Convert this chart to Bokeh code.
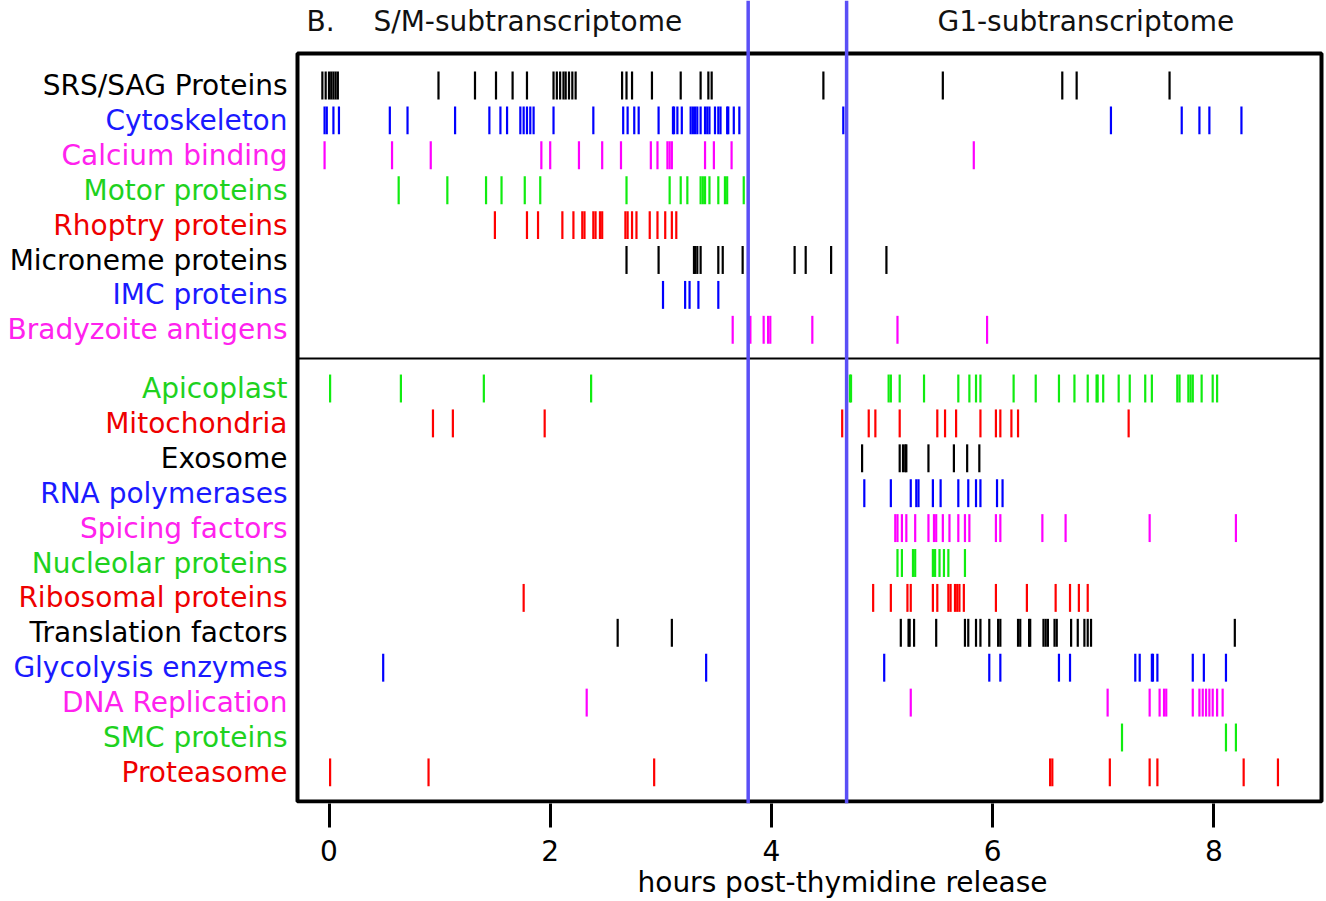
from bokeh.plotting import figure
from bokeh.models import Range1d, FixedTicker, Span, ColumnDataSource, Title
from bokeh.core.properties import value
from bokeh.embed import file_html
from bokeh.resources import INLINE

# ---------------- data ----------------
categories_top = ["SRS/SAG Proteins", "Cytoskeleton", "Calcium binding", "Motor proteins",
                  "Rhoptry proteins", "Microneme proteins", "IMC proteins", "Bradyzoite antigens"]
categories_bottom = ["Apicoplast", "Mitochondria", "Exosome", "RNA polymerases", "Spicing factors",
                     "Nucleolar proteins", "Ribosomal proteins", "Translation factors",
                     "Glycolysis enzymes", "DNA Replication", "SMC proteins", "Proteasome"]

srs_sag = [-0.06, -0.03, 0.0, 0.02, 0.04, 0.06, 0.08, 0.99, 1.32, 1.51, 1.66, 1.79, 2.03, 2.06, 2.09,
           2.12, 2.14, 2.17, 2.20, 2.23, 2.65, 2.69, 2.74, 2.92, 3.18, 3.36, 3.43, 3.46, 4.47, 5.55,
           6.63, 6.76, 7.60]
cytoskeleton = [-0.04, -0.02, 0.04, 0.09, 0.55, 0.71, 1.14, 1.45, 1.55, 1.61, 1.73, 1.76, 1.79, 1.82,
                1.85, 2.03, 2.39, 2.66, 2.70, 2.76, 2.80, 2.98, 3.11, 3.12, 3.15, 3.19, 3.27, 3.29,
                3.31, 3.33, 3.36, 3.40, 3.42, 3.44, 3.49, 3.52, 3.54, 3.60, 3.61, 3.66, 3.71, 4.65,
                7.07, 7.71, 7.87, 7.96, 8.25]
calcium = [-0.04, 0.57, 0.92, 1.92, 2.00, 2.26, 2.47, 2.64, 2.91, 2.97, 3.06, 3.08, 3.10, 3.40, 3.48,
           3.64, 5.83]
motor = [0.63, 1.07, 1.42, 1.56, 1.77, 1.91, 2.69, 3.08, 3.18, 3.24, 3.36, 3.38, 3.40, 3.44, 3.52,
         3.58, 3.60, 3.75]
rhoptry = [1.50, 1.79, 1.89, 2.11, 2.21, 2.29, 2.31, 2.39, 2.41, 2.45, 2.47, 2.68, 2.70, 2.74, 2.78,
           2.90, 2.97, 3.04, 3.10, 3.14]
microneme = [2.69, 2.98, 3.30, 3.31, 3.33, 3.36, 3.52, 3.56, 3.74, 4.21, 4.31, 4.54, 5.04]
imc = [3.02, 3.22, 3.26, 3.34, 3.52]
bradyzoite = [3.65, 3.81, 3.93, 3.97, 3.99, 4.37, 5.14, 5.95]

apicoplast = [0.01, 0.65, 1.40, 2.37, 4.71, 4.72, 5.06, 5.08, 5.16, 5.38, 5.69, 5.79, 5.85, 5.89, 6.19,
              6.39, 6.60, 6.74, 6.86, 6.94, 6.95, 7.00, 7.14, 7.24, 7.38, 7.44, 7.67, 7.69, 7.77,
              7.79, 7.81, 7.89, 7.99, 8.03]
mitochondria = [0.94, 1.12, 1.95, 4.64, 4.88, 4.94, 5.16, 5.50, 5.57, 5.67, 5.89, 6.03, 6.07, 6.17,
                6.23, 7.23]
exosome = [4.82, 5.16, 5.19, 5.21, 5.22, 5.42, 5.65, 5.77, 5.88]
rna_pol = [4.84, 5.08, 5.26, 5.31, 5.33, 5.46, 5.53, 5.69, 5.78, 5.85, 5.89, 6.04, 6.09]
splicing = [5.12, 5.14, 5.18, 5.22, 5.30, 5.42, 5.47, 5.49, 5.55, 5.61, 5.69, 5.75, 5.79, 6.03, 6.07,
            6.45, 6.66, 7.42, 8.20]
nucleolar = [5.14, 5.18, 5.28, 5.30, 5.46, 5.48, 5.52, 5.56, 5.60, 5.75]
ribosomal = [1.76, 4.92, 5.08, 5.23, 5.26, 5.46, 5.50, 5.60, 5.62, 5.66, 5.68, 5.70, 5.74, 6.03, 6.31,
             6.57, 6.70, 6.78, 6.86]
translation = [2.61, 3.10, 5.17, 5.24, 5.25, 5.29, 5.49, 5.75, 5.78, 5.85, 5.89, 5.97, 6.05, 6.07,
               6.23, 6.25, 6.33, 6.34, 6.46, 6.48, 6.50, 6.56, 6.58, 6.71, 6.77, 6.83, 6.86, 6.89, 8.19]
glycolysis = [0.49, 3.41, 5.02, 5.97, 6.07, 6.60, 6.70, 7.29, 7.33, 7.44, 7.45, 7.49, 7.81, 7.91, 8.11]
dna_replication = [2.33, 5.26, 7.04, 7.42, 7.51, 7.55, 7.57, 7.81, 7.87, 7.90, 7.93, 7.96, 7.99, 8.03,
                   8.08]
smc = [7.17, 8.11, 8.20]
proteasome = [0.01, 0.90, 2.94, 6.52, 6.54, 7.06, 7.42, 7.49, 8.27, 8.58]

series_top = [srs_sag, cytoskeleton, calcium, motor, rhoptry, microneme, imc, bradyzoite]
series_bottom = [apicoplast, mitochondria, exosome, rna_pol, splicing, nucleolar, ribosomal,
                 translation, glycolysis, dna_replication, smc, proteasome]

phase_boundaries = [3.79, 4.68]
x_ticks = [0, 2, 4, 6, 8]
phase_titles = ["B.", "S/M-subtranscriptome", "G1-subtranscriptome"]
x_label = "hours post-thymidine release"

# ---------------- style ----------------
BLACK, BLUE, MAGENTA, GREEN, RED = "#000000", "#0000ff", "#ff00ff", "#10ec10", "#ff0000"
TXT = {BLACK: "#000000", BLUE: "#1a1aff", MAGENTA: "#ff22ee", GREEN: "#1ed21e", RED: "#ee0000"}
colors_top = [BLACK, BLUE, MAGENTA, GREEN, RED, BLACK, BLUE, MAGENTA]
colors_bottom = [GREEN, RED, BLACK, BLUE, MAGENTA, GREEN, RED, BLACK, BLUE, MAGENTA, GREEN, RED]

FONT = "DejaVu Sans"
PX_H = 110.6          # pixels per hour
X0_IMG = 328.5        # image x of hour 0
ROW_PX = 34.9         # pixels per row
ROW0_IMG = 85.0       # image y of first row
def ximg(px):
    return (px - X0_IMG) / PX_H
def yimg(py):
    return (py - ROW0_IMG) / ROW_PX

bottom_offset = yimg(388.0)   # first row of the lower block
half_h = 0.40

row_y = list(range(len(categories_top))) + [bottom_offset + j for j in range(len(categories_bottom))]
all_series = series_top + series_bottom
all_colors = colors_top + colors_bottom
all_names = categories_top + categories_bottom

xs, y0s, y1s, cs = [], [], [], []
for vals, yy, c in zip(all_series, row_y, all_colors):
    for v in vals:
        xs.append(v); y0s.append(yy - half_h); y1s.append(yy + half_h); cs.append(c)
ticks_src = ColumnDataSource(dict(x=xs, y0=y0s, y1=y1s, c=cs))

x_start, x_end = ximg(8), ximg(1326)
y_top, y_bot = yimg(0), yimg(803)

p = figure(frame_width=1318, frame_height=803, output_backend="svg", toolbar_location=None,
           x_range=Range1d(x_start, x_end), y_range=Range1d(y_bot, y_top),
           y_axis_location=None, min_border=0, min_border_left=8, min_border_right=0,
           min_border_top=0, min_border_bottom=0)
p.outline_line_color = None
p.grid.visible = False
p.background_fill_color = "white"
p.border_fill_color = "white"

# rug ticks
p.segment(x0="x", x1="x", y0="y0", y1="y1", line_color="c", line_width=2.2, source=ticks_src)

# box and divider
bl, br = ximg(297), ximg(1321)
bt, bb = yimg(53), yimg(801)
p.quad(left=bl, right=br, top=bt, bottom=bb, fill_color=None, line_color="black", line_width=4)
p.segment(x0=bl, x1=br, y0=yimg(358), y1=yimg(358), line_color="black", line_width=2.2)

# phase boundaries
for b in phase_boundaries:
    p.add_layout(Span(location=b, dimension="height", line_color="#5a4ff6", line_width=3.5))

# row labels
lab_src = ColumnDataSource(dict(x=[ximg(287)] * len(all_names), y=row_y, t=all_names,
                                c=[TXT[c] for c in all_colors]))
p.text(x="x", y="y", text="t", text_color="c", source=lab_src, text_align="right",
       text_baseline="middle", text_font=value(FONT), text_font_size=value("28px"))

# titles
title_src = ColumnDataSource(dict(x=[ximg(306), ximg(373), ximg(937)], y=[yimg(21)] * 3,
                                  t=phase_titles))
p.text(x="x", y="y", text="t", source=title_src, text_align="left", text_baseline="middle",
       text_color="#111111", text_font=value(FONT), text_font_size=value("28px"))

# x axis
ax = p.xaxis[0]
ax.ticker = FixedTicker(ticks=x_ticks)
ax.axis_line_color = None
ax.major_tick_in = 0
ax.major_tick_out = 24
ax.major_tick_line_width = 3
ax.major_tick_line_color = "black"
ax.minor_tick_line_color = None
ax.major_label_text_font = FONT
ax.major_label_text_font_size = "28px"
ax.major_label_text_color = "black"
ax.major_label_standoff = 12

# x axis label, placed under the axis and aligned like the reference
p.add_layout(Title(text=x_label, align="left", offset=629, standoff=0,
                   text_font=FONT, text_font_size="28px", text_font_style="normal",
                   text_color="black"), "below")

open("out.html", "w").write(file_html(p, INLINE))
